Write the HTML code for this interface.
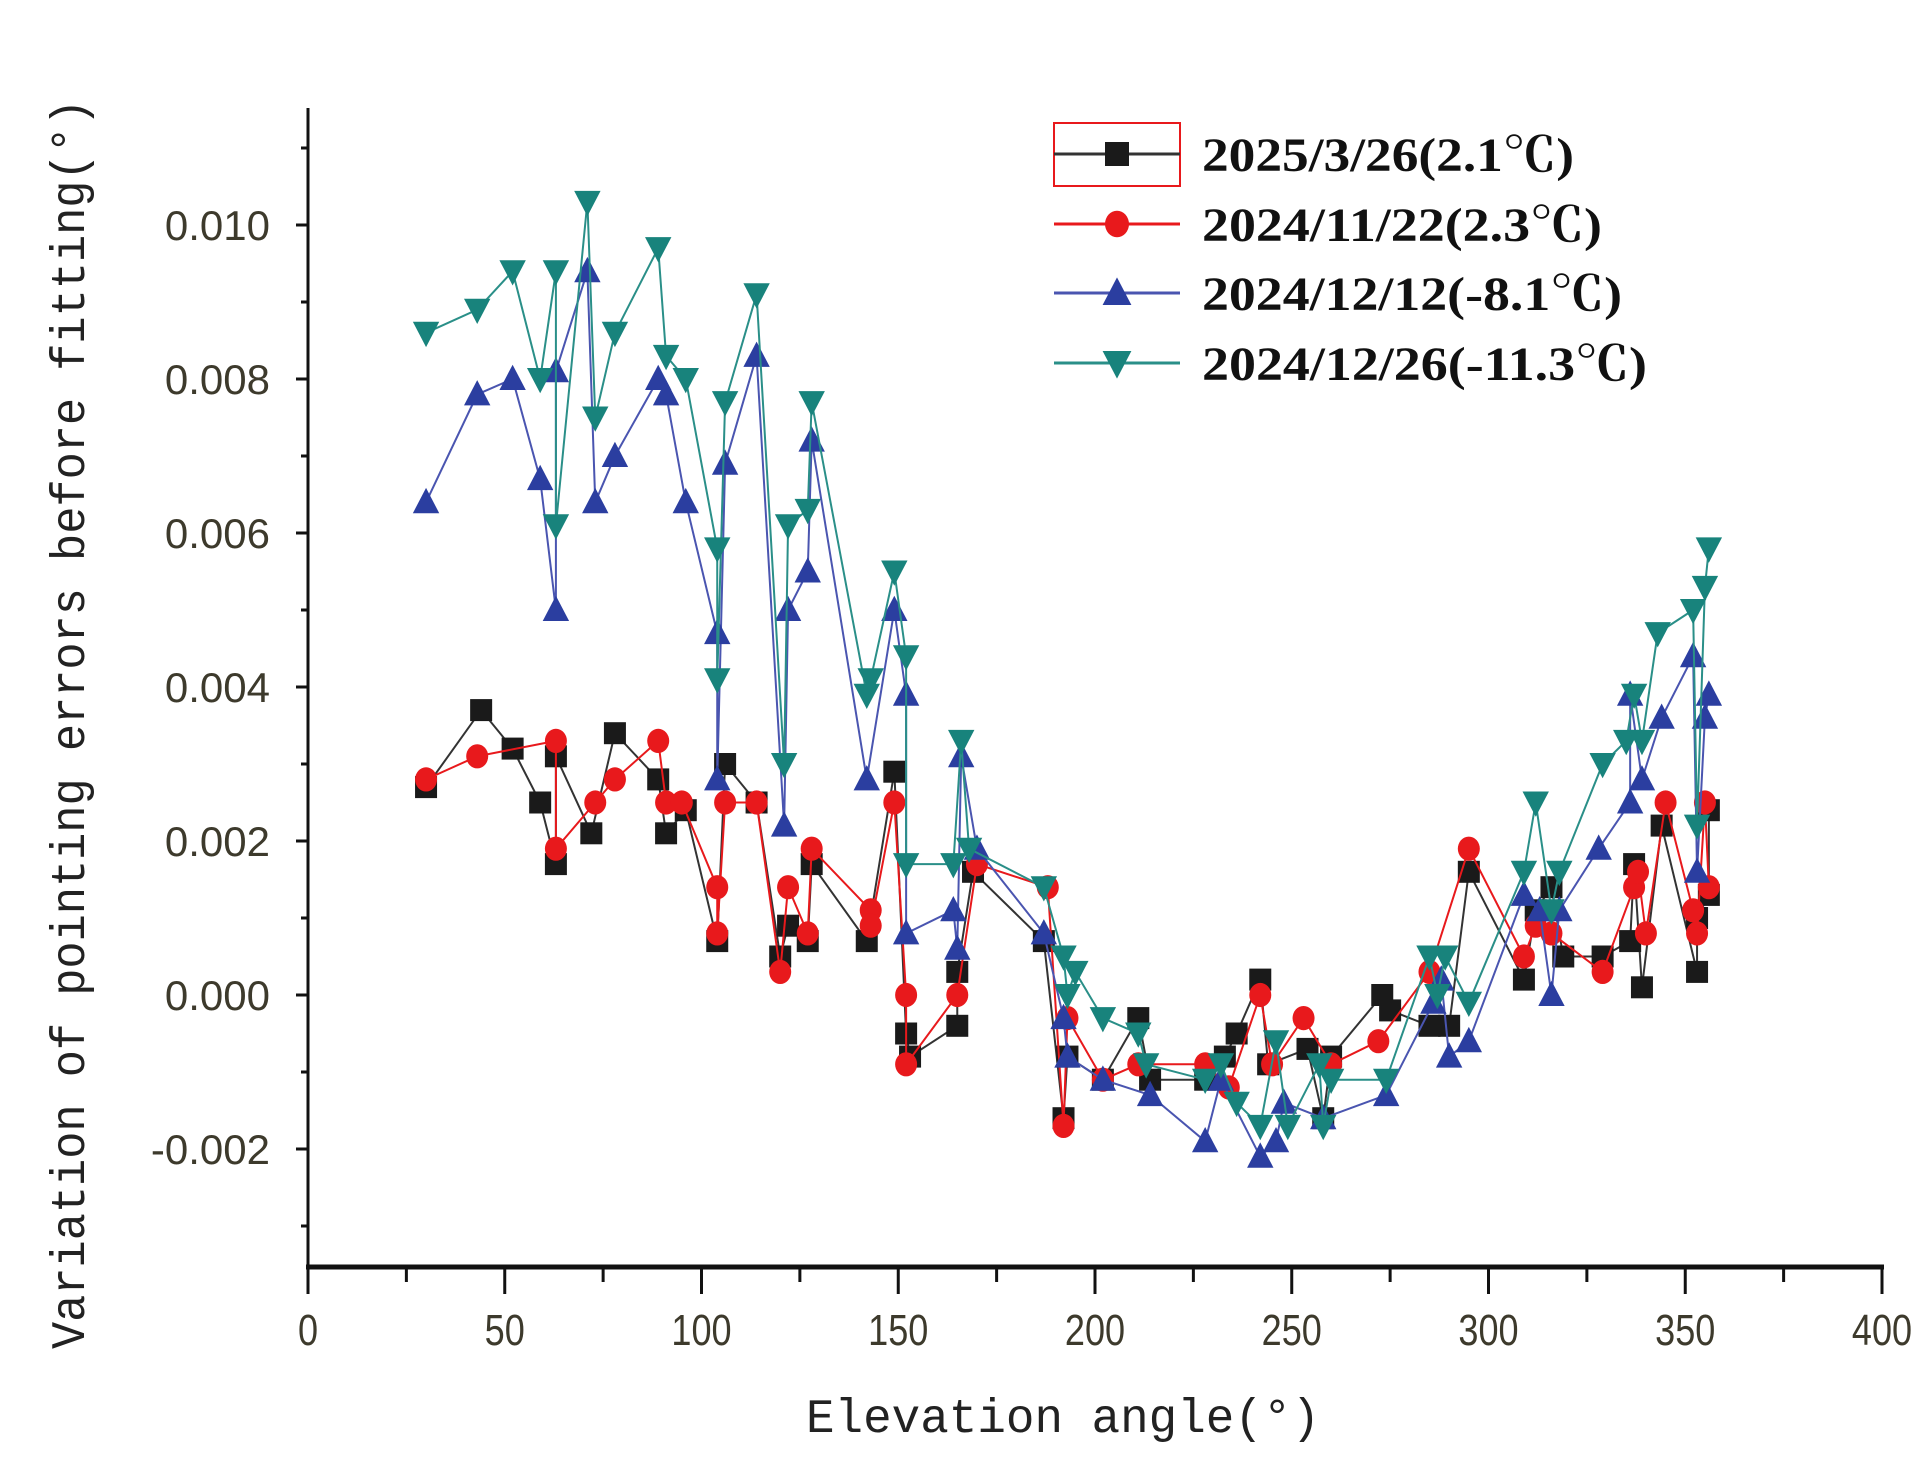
<!DOCTYPE html>
<html><head><meta charset="utf-8">
<style>html,body{margin:0;padding:0;background:#fff;}svg{display:block;}</style>
</head><body>
<svg id="chart" width="1931" height="1462" viewBox="0 0 1931 1462" xmlns="http://www.w3.org/2000/svg">
<g id="axes"></g>
<g id="series"></g>
<g id="legend"></g>
</svg>
<script>
const xTicks = [0,50,100,150,200,250,300,350,400];
const yTicks = [-0.002,0,0.002,0.004,0.006,0.008,0.010];
const yTickLabels = ["-0.002","0.000","0.002","0.004","0.006","0.008","0.010"];
const seriesNames = ["2025/3/26(2.1℃)","2024/11/22(2.3℃)","2024/12/12(-8.1℃)","2024/12/26(-11.3℃)"];
const blackX = [30,44,52,59,63,63,72,78,89,91,96,104,106,114,120,122,127,128,142,149,152,153,165,165,169,187,192,193,202,211,214,228,233,236,242,244,254,258,260,273,275,285,290,295,309,312,316,319,329,336,337,339,344,353,353,356,356];
const blackY = [0.0027,0.0037,0.0032,0.0025,0.0017,0.0031,0.0021,0.0034,0.0028,0.0021,0.0024,0.0007,0.0030,0.0025,0.0005,0.0009,0.0007,0.0017,0.0007,0.0029,-0.0005,-0.0008,-0.0004,0.0003,0.0016,0.0007,-0.0016,-0.0008,-0.0011,-0.0003,-0.0011,-0.0011,-0.0008,-0.0005,0.0002,-0.0009,-0.0007,-0.0016,-0.0008,0.0000,-0.0002,-0.0004,-0.0004,0.0016,0.0002,0.0011,0.0014,0.0005,0.0005,0.0007,0.0017,0.0001,0.0022,0.0003,0.0010,0.0013,0.0024];
const redX = [30,43,63,63,73,78,89,91,95,104,104,106,114,120,122,127,128,143,143,149,152,152,165,170,188,192,193,202,211,228,234,242,245,253,260,272,285,295,309,312,316,329,337,338,340,345,352,353,355,356];
const redY = [0.0028,0.0031,0.0033,0.0019,0.0025,0.0028,0.0033,0.0025,0.0025,0.0014,0.0008,0.0025,0.0025,0.0003,0.0014,0.0008,0.0019,0.0011,0.0009,0.0025,0.0000,-0.0009,0.0000,0.0017,0.0014,-0.0017,-0.0003,-0.0011,-0.0009,-0.0009,-0.0012,0.0000,-0.0009,-0.0003,-0.0009,-0.0006,0.0003,0.0019,0.0005,0.0009,0.0008,0.0003,0.0014,0.0016,0.0008,0.0025,0.0011,0.0008,0.0025,0.0014];
const blueX = [30,43,52,59,63,63,71,73,78,89,91,96,104,104,106,114,121,122,127,128,142,149,152,152,164,165,166,170,187,192,193,202,214,228,232,242,246,248,258,274,286,288,290,295,309,313,316,318,328,336,336,339,344,352,353,355,356];
const blueY = [0.0064,0.0078,0.0080,0.0067,0.0050,0.0081,0.0094,0.0064,0.0070,0.0080,0.0078,0.0064,0.0047,0.0028,0.0069,0.0083,0.0022,0.0050,0.0055,0.0072,0.0028,0.0050,0.0039,0.0008,0.0011,0.0006,0.0031,0.0019,0.0008,-0.0003,-0.0008,-0.0011,-0.0013,-0.0019,-0.0011,-0.0021,-0.0019,-0.0014,-0.0016,-0.0013,-0.0001,0.0002,-0.0008,-0.0006,0.0013,0.0011,0.0000,0.0011,0.0019,0.0025,0.0039,0.0028,0.0036,0.0044,0.0016,0.0036,0.0039];
const tealX = [30,43,52,59,63,63,71,73,78,89,91,96,104,104,106,114,121,122,127,128,142,143,149,152,152,164,166,168,187,192,193,195,202,211,213,228,232,236,242,246,249,257,258,260,274,285,287,289,295,309,312,316,318,329,335,337,339,343,352,353,355,356];
const tealY = [0.0086,0.0089,0.0094,0.0080,0.0094,0.0061,0.0103,0.0075,0.0086,0.0097,0.0083,0.0080,0.0058,0.0041,0.0077,0.0091,0.0030,0.0061,0.0063,0.0077,0.0039,0.0041,0.0055,0.0044,0.0017,0.0017,0.0033,0.0019,0.0014,0.0005,0.0000,0.0003,-0.0003,-0.0005,-0.0009,-0.0011,-0.0009,-0.0014,-0.0017,-0.0006,-0.0017,-0.0009,-0.0017,-0.0011,-0.0011,0.0005,0.0000,0.0005,-0.0001,0.0016,0.0025,0.0011,0.0016,0.0030,0.0033,0.0039,0.0033,0.0047,0.0050,0.0022,0.0053,0.0058];

const NS = "http://www.w3.org/2000/svg";
const X0 = 308, X1 = 1882, AXY = 1267, AXTOP = 108;
function sx(v){ return X0 + (v/400)*(X1-X0); }
function sy(v){ return 995 - v*77000; }
function mk(tag, attrs, parent){ const e=document.createElementNS(NS,tag); for(const k in attrs) e.setAttribute(k,attrs[k]); parent.appendChild(e); return e; }

const axes = document.getElementById('axes');
let yl = mk('line',{x1:X0,y1:AXTOP,x2:X0,y2:AXY,stroke:'#111','stroke-width':3},axes);


let xl = mk('line',{x1:X0-2,y1:AXY,x2:X1+2,y2:AXY,stroke:'#111','stroke-width':5},axes);


for (let v=0; v<=400; v+=25){
  const major = v%50===0;
  const t = mk('line',{x1:sx(v),y1:AXY,x2:sx(v),y2:AXY+(major?27:15),stroke:'#111','stroke-width':3},axes);
  
  
}
xTicks.forEach(v=>{
  const t = mk('text',{x:sx(v),y:1345,'text-anchor':'middle','font-family':'Liberation Sans, sans-serif','font-size':44,fill:'#3d3a2c',transform:`translate(${sx(v)},0) scale(0.82,1) translate(${-sx(v)},0)`},axes);
  t.textContent = v;
  
  
});
for (let i=-3;i<=11;i++){
  const v=i*0.001, major = i%2===0;
  const t = mk('line',{x1:X0-(major?12:7),y1:sy(v),x2:X0,y2:sy(v),stroke:'#111','stroke-width':3},axes);
  
  
}
yTicks.forEach((v,i)=>{
  const t = mk('text',{x:270,y:sy(v)+15,'text-anchor':'end','font-family':'Liberation Sans, sans-serif','font-size':42,fill:'#3d3a2c'},axes);
  t.textContent = yTickLabels[i];
  
  
});
let xt = mk('text',{x:1063,y:1432,'text-anchor':'middle','font-family':'Liberation Mono, monospace','font-size':48,fill:'#222',textLength:514,lengthAdjust:'spacingAndGlyphs'},axes);
xt.textContent='Elevation angle(°)';


let yt = mk('text',{x:0,y:0,'text-anchor':'middle','font-family':'Liberation Mono, monospace','font-size':48,fill:'#222',textLength:1250,lengthAdjust:'spacingAndGlyphs',transform:'translate(84,724) rotate(-90)'},axes);
yt.textContent='Variation of pointing errors before fitting(°)';



const colors = ['#1a1a1a','#e8191c','#2b3ea0','#18837c'];
const lineColors = ['#333','#e8191c','#4a55b0','#2a8f88'];
const allX=[blackX,redX,blueX,tealX], allY=[blackY,redY,blueY,tealY];
const shapes=['square','circle','up','down'];
const sg = document.getElementById('series');
function marker(shape,x,y,c,parent,r){
  let e;
  if(shape==='square') e=mk('rect',{x:x-r,y:y-r,width:2*r,height:2*r,fill:c},parent);
  else if(shape==='circle') e=mk('ellipse',{cx:x,cy:y,rx:r,ry:r*1.1,fill:c},parent);
  else if(shape==='up') e=mk('polygon',{points:`${x},${y-r*1.3} ${x-r*1.2},${y+r} ${x+r*1.2},${y+r}`,fill:c},parent);
  else e=mk('polygon',{points:`${x-r*1.2},${y-r} ${x+r*1.2},${y-r} ${x},${y+r*1.3}`,fill:c},parent);
  return e;
}
for(let s=0;s<4;s++){
  const g = mk('g',{},sg);
  
  
  const pts = allX[s].map((v,i)=>sx(v)+','+sy(allY[s][i])).join(' ');
  const pl = mk('polyline',{points:pts,fill:'none',stroke:lineColors[s],'stroke-width':2},g);
  
  
  allX[s].forEach((v,i)=>{
    const m = marker(shapes[s],sx(v),sy(allY[s][i]),colors[s],g,11);
    
    
  });
}
const lg = document.getElementById('legend');
const rowsY=[154,224,293,363];
let box = mk('rect',{x:1054,y:123,width:126,height:63,fill:'none',stroke:'#e8191c','stroke-width':2},lg);


const textLens=[372,400,420,445];
seriesNames.forEach((n,s)=>{
  const g = mk('g',{},lg);
  
  
  mk('line',{x1:1054,y1:rowsY[s],x2:1180,y2:rowsY[s],stroke:lineColors[s],'stroke-width':3},g);
  marker(shapes[s],1117,rowsY[s],colors[s],g,12);
  const t = mk('text',{x:1202,y:rowsY[s]+17,'font-family':'Liberation Serif, "Noto Serif CJK SC", serif','font-weight':'bold','font-size':48,fill:'#111',textLength:textLens[s],lengthAdjust:'spacingAndGlyphs'},g);
  t.textContent=n;
  
  
});
</script>
</body></html>
